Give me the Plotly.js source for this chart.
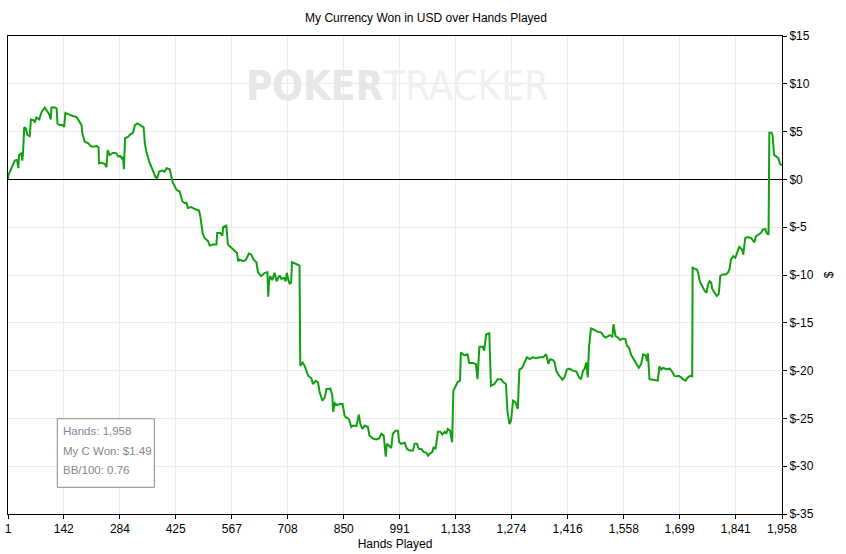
<!DOCTYPE html>
<html><head><meta charset="utf-8">
<script src="https://cdn.plot.ly/plotly-3.0.1.min.js"></script>
<style>html,body{margin:0;padding:0;background:#fff}#chart{width:846px;height:554px}</style>
</head><body><div id="chart"></div>
<script>
const hands = [1,2,6,14,18,24,27,29,35,37,39,42,46,50,56,59,65,69,73,80,86,94,100,105,109,111,120,124,126,132,139,143,146,157,166,174,183,187,189,195,204,210,216,225,230,231,237,246,250,253,258,267,275,280,285,290,292,294,297,305,311,317,322,328,334,341,344,347,351,358,364,370,374,378,383,392,397,402,410,414,417,423,427,435,442,448,452,456,465,473,484,488,493,498,507,511,520,528,530,538,543,545,553,557,562,570,577,580,583,587,594,602,610,616,622,629,633,641,650,657,659,661,664,669,675,680,684,688,692,698,703,706,710,713,
717,719,727,738,740,746,751,760,768,772,779,785,789,796,802,806,813,816,821,823,827,833,840,847,852,856,863,869,873,882,888,892,897,903,911,915,924,932,939,945,951,956,959,966,970,974,981,987,990,995,1004,1010,1016,1025,1029,1035,1040,1046,1052,1059,1063,1067,1074,1077,1082,1088,1094,1099,1105,1109,1113,1119,1124,1127,1134,1138,1144,
1146,1155,1163,1167,1176,1184,1188,1193,1201,1205,1210,1218,1222,1231,1239,1248,1253,1260,1264,1269,1273,1278,1284,1290,1294,1301,1307,1313,1320,1328,1337,1345,1354,1362,1367,1372,1379,1383,1387,1394,1403,1408,1414,1421,1429,1438,1445,1450,1455,1459,1463,1467,1470,1475,1484,1492,1501,1507,1513,1522,1529,1532,1537,1543,1549,1556,1562,1566,1571,1577,1583,1590,1596,1602,1607,1613,1617,1619,1623,1632,1639,1644,1648,1653,1657,1665,1674,1680,1686,1692,1697,1703,1707,1714,1720,1726,1731,
1732,1738,1743,1746,1750,1754,1758,1763,1767,1771,1775,1779,1782,1785,1790,1793,1798,1802,1808,1815,1821,1825,1829,1835,1840,1844,1850,1857,1860,1865,1871,1880,1884,1888,1892,1899,1905,1909,1916,1919,1924,1926,1932,1934,1938,1944,1949,1953,1958];

const won = [0,0.47,0.81,1.51,1.96,2.03,1.17,2.55,2.73,1.96,2.73,5.44,5.33,4.64,4.53,6.27,6.2,6.02,6.48,6.27,7.06,7.52,7.17,6.82,6.27,7.52,7.52,7.42,5.85,5.68,5.68,5.5,6.96,6.72,6.61,6.54,6.02,5.68,4.81,3.94,3.77,3.49,3.42,3.49,3.35,1.69,1.75,1.61,1.27,3.07,2.55,2.79,2.73,2.38,2.45,2.1,2.38,1.06,4.29,4.46,4.74,4.88,5.68,5.85,5.71,5.57,5.44,3.77,2.9,1.85,1.33,0.65,0.23,0.13,0.81,0.92,0.81,1.17,1.06,0.36,-0.23,-0.75,-1.09,-1.27,-2.31,-2.48,-2.42,-3.0,-2.9,-3.1,-3.25,-4.04,-5.6,-6.13,-6.48,-6.93,-6.82,-6.82,-5.6,-5.6,-5.89,-4.98,-4.84,-6.82,-7.0,-7.27,-7.52,-7.69,-8.56,-8.39,-8.56,-8.46,-7.76,-7.86,-8.39,-8.67,-9.71,-10.12,-9.77,-9.71,-12.27,-10.65,-10.12,-10.54,-9.77,-10.65,-10.29,-10.05,-10.4,-10.29,-10.65,-9.77,-10.54,-10.89,
-10.8,-8.67,-8.8,-9.01,-19.5,-19.15,-19.5,-20.54,-20.8,-21.4,-21.06,-21.23,-22.27,-23.15,-22.8,-21.93,-21.93,-21.86,-22.6,-24.3,-23.4,-23.6,-23.5,-23.5,-24.7,-24.9,-25.05,-25.9,-25.75,-25.8,-24.6,-25.6,-26.1,-25.75,-25.9,-26.8,-27.1,-27.2,-27.1,-26.6,-26.8,-29.0,-27.66,-28.0,-28.1,-26.6,-26.3,-26.3,-27.5,-27.66,-27.55,-28.2,-28.35,-28.35,-27.66,-27.66,-28.2,-28.2,-28.5,-28.6,-28.9,-28.7,-28.5,-28.0,-28.2,-26.4,-26.4,-26.7,-26.4,-26.6,-26.1,-26.3,-27.5,-22.1,-21.4,-21.2,-21.06,
-18.1,-18.4,-18.3,-19.2,-19.2,-19.3,-20.9,-17.5,-17.5,-17.9,-16.2,-16.1,-21.6,-21.4,-20.9,-20.9,-21.2,-21.4,-24.35,-25.6,-25.2,-23.15,-23.3,-24.0,-19.9,-19.7,-19.1,-18.6,-18.8,-18.6,-18.7,-18.6,-18.6,-18.3,-19.3,-18.8,-18.9,-19.15,-20.0,-20.5,-20.95,-20.7,-19.9,-19.8,-20.0,-20.1,-20.7,-20.9,-20.0,-19.8,-19.15,-20.7,-17.6,-15.6,-15.75,-15.95,-16.0,-16.4,-16.55,-16.3,-16.45,-15.15,-16.4,-16.55,-16.8,-16.65,-16.7,-17.4,-17.6,-18.4,-18.8,-19.3,-19.7,-19.3,-18.3,-18.4,-19.0,-18.2,-20.9,-20.95,-21.05,-21.05,-19.55,-19.9,-19.7,-19.85,-19.8,-20.1,-20.55,-20.6,-20.55,-20.7,-20.9,-21.05,-20.7,-20.55,-20.6,
-9.25,-9.36,-9.43,-9.77,-10.65,-11.0,-11.33,-11.69,-11.85,-11.0,-10.65,-10.8,-11.5,-11.69,-12.0,-12.2,-12.0,-10.1,-9.95,-9.95,-9.77,-9.43,-8.39,-8.04,-8.2,-7.69,-7.06,-7.34,-7.86,-6.13,-6.02,-6.13,-6.37,-6.58,-5.96,-5.78,-5.6,-5.26,-5.19,-5.6,-5.78,4.88,4.88,4.64,2.55,2.38,2.2,1.6,1.49];

const xTickVals = [1,142,284,425,567,708,850,991,1133,1274,1416,1558,1699,1841,1958];
const xTickText = xTickVals.map(v => v.toLocaleString('en-US'));
const yTickVals = [-35,-30,-25,-20,-15,-10,-5,0,5,10,15];
const yTickText = yTickVals.map(v => '$' + v);
const summaryLines = ['Hands: 1,958', 'My C Won: $1.49', 'BB/100: 0.76'];

const FONT = 'Liberation Sans, Arial, sans-serif';
const plotL = 8, plotR = 782, plotT = 36, plotB = 514;
const px2x = p => (p - plotL) / (plotR - plotL);
const px2y = p => (plotB - p) / (plotB - plotT);

const summaryY = [431, 451, 470];
const annotations = [
  {
    xref: 'paper', yref: 'paper', x: px2x(397), y: px2y(86), xanchor: 'center', yanchor: 'middle',
    text: '<b>POKER</b><span style="color:#f0f0f0">TRACKER</span>', showarrow: false,
    font: {family: 'Liberation Sans Narrow, DejaVu Sans Condensed, Roboto Condensed, Liberation Sans, sans-serif', size: 40, color: '#e6e6e6'}
  }
].concat(summaryLines.map((t, i) => ({
  xref: 'paper', yref: 'paper', x: px2x(61), y: px2y(summaryY[i]), xanchor: 'left', yanchor: 'middle',
  text: t, showarrow: false, font: {family: FONT, size: 11.5, color: '#858590'}
})));

const trace = {
  x: hands, y: won, type: 'scatter', mode: 'lines',
  line: {color: '#10a010', width: 2}, hoverinfo: 'skip'
};

const layout = {
  width: 846, height: 554,
  margin: {l: plotL, r: 846 - plotR, t: plotT, b: 554 - plotB},
  paper_bgcolor: '#fff', plot_bgcolor: '#fff',
  showlegend: false, hovermode: false,
  font: {family: FONT, size: 12, color: '#000'},
  title: {text: 'My Currency Won in USD over Hands Played', font: {family: FONT, size: 12, color: '#000'},
          x: 426 / 846, xanchor: 'center', y: 1 - 18 / 554, yanchor: 'middle'},
  xaxis: {
    range: [1, 1958], tickmode: 'array', tickvals: xTickVals, ticktext: xTickText,
    showgrid: true, gridcolor: '#ebebeb', gridwidth: 1, zeroline: false,
    showline: true, linecolor: '#000', linewidth: 1, mirror: true,
    ticks: 'outside', ticklen: 4, tickcolor: '#000', tickfont: {family: FONT, size: 12, color: '#000'},
    title: {text: 'Hands Played', font: {family: FONT, size: 12, color: '#000'}, standoff: 4}
  },
  yaxis: {
    side: 'right', range: [-35, 15], tickmode: 'array', tickvals: yTickVals, ticktext: yTickText,
    showgrid: true, gridcolor: '#ebebeb', gridwidth: 1,
    zeroline: true, zerolinecolor: '#000', zerolinewidth: 1,
    showline: true, linecolor: '#000', linewidth: 1, mirror: true,
    ticks: 'outside', ticklen: 4, tickcolor: '#000', tickfont: {family: FONT, size: 12, color: '#000'},
    title: {text: '$', font: {family: FONT, size: 12, color: '#000'}, standoff: 11}
  },
  shapes: [{
    type: 'rect', xref: 'paper', yref: 'paper',
    x0: px2x(57.3), x1: px2x(154.3), y0: px2y(487.3), y1: px2y(418.7),
    line: {color: '#888', width: 1}, fillcolor: '#fff', layer: 'above'
  }],
  annotations: annotations
};

Plotly.newPlot('chart', [trace], layout, {displayModeBar: false, staticPlot: true});
</script></body></html>
